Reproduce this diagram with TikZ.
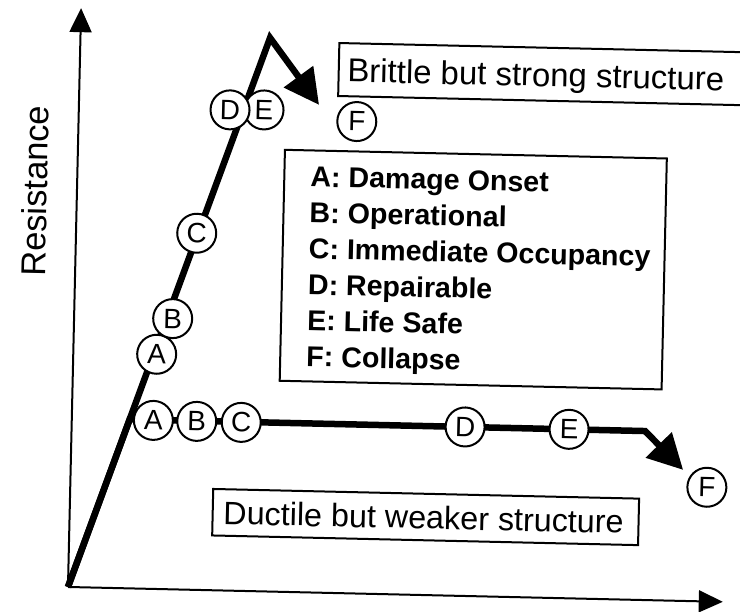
\documentclass[tikz,border=0pt]{standalone}
\usepackage{fontspec}
\setmainfont{Liberation Sans}
\usetikzlibrary{arrows.meta}
\begin{document}
\begin{tikzpicture}[x=1pt,y=-1pt,
  curve/.style={line width=6.5pt, line join=miter, miter limit=20, -{Triangle[length=35pt,width=35pt]}},
  axis/.style={line width=2pt, -{Triangle[length=24pt,width=22pt]}},
  lvl/.style={circle, draw, line width=2pt, fill=white, minimum size=39pt, inner sep=0pt, font=\fontsize{28}{30}\selectfont},
  lbox/.style={draw, line width=2pt, fill=white, inner sep=0pt},
  boxtext/.style={anchor=base west, inner sep=0pt, font=\fontsize{32.3}{36}\selectfont},
  legtext/.style={anchor=base west, inner sep=0pt, font=\bfseries\fontsize{28.6}{32}\selectfont}]
\path[use as bounding box, clip] (0,0) rectangle (740,612);
\fill[white] (0,0) rectangle (740,612);
\begin{scope}[rotate around={-1.3:(68,586)}, transform shape]
  % axes
  \coordinate (O) at (68,587);
  \coordinate (Ytip) at (68,8);
  \coordinate (Xtip) at (723,587);
  \draw[axis] (O) -- (Ytip);
  \draw[axis] (O) -- (Xtip);
  \node[rotate=90, inner sep=0pt, font=\fontsize{34.5}{38}\selectfont] (ylab) at (26,191.7) {Resistance};
  % curves
  \coordinate (peak) at (257.6,33.4);
  \coordinate (btip) at (308.1,99.3);
  \coordinate (J) at (125.9,418);
  \coordinate (bend) at (641.5,418);
  \coordinate (dtip) at (680.4,456);
  \draw[curve] (O) -- (J) -- (bend) -- (dtip);
  \draw[curve] (O) -- (peak) -- (btip);
  % brittle levels
  \node[lvl] (bA) at (151.4,352.3) {A};
  \node[lvl] (bB) at (166.6,316.3) {B};
  \node[lvl] (bC) at (188.7,230.4) {C};
  \node[lvl] (bE) at (253.2,105.6) {E};
  \node[lvl] (bD) at (219.2,106.3) {D};
  \node[lvl] (bF) at (346.2,115.1) {F};
  % ductile levels
  \node[lvl] (dA) at (149.6,418.5) {A};
  \node[lvl] (dB) at (193,418.5) {B};
  \node[lvl] (dC) at (237.5,418.5) {C};
  \node[lvl] (dD) at (461.4,418) {D};
  \node[lvl] (dE) at (565.4,418) {E};
  \node[lvl] (dF) at (704.5,472.8) {F};
  % brittle label
  \node[lbox, anchor=north west, minimum width=470pt, minimum height=53pt] (bbox) at (326,36) {};
  \node[boxtext, font=\fontsize{32.9}{36}\selectfont] (btext) at (335.6,75.7) {Brittle but strong structure};
  % legend
  \node[lbox, anchor=north west, minimum width=382pt, minimum height=231pt] (legend) at (274,144) {};
  \node[legtext] (lA) at (301,181.2) {A: Damage Onset};
  \node[legtext] (lB) at (301,217.2) {B: Operational};
  \node[legtext] (lC) at (301,253.2) {C: Immediate Occupancy};
  \node[legtext] (lD) at (301,289.2) {D: Repairable};
  \node[legtext] (lE) at (301,325.2) {E: Life Safe};
  \node[legtext] (lF) at (301,361.2) {F: Collapse};
  % ductile label
  \node[lbox, anchor=north west, minimum width=426pt, minimum height=46.5pt] (dbox) at (210,484.7) {};
  \node[boxtext] (dtext) at (221.6,520.8) {Ductile but weaker structure};
\end{scope}
\end{tikzpicture}
\end{document}
